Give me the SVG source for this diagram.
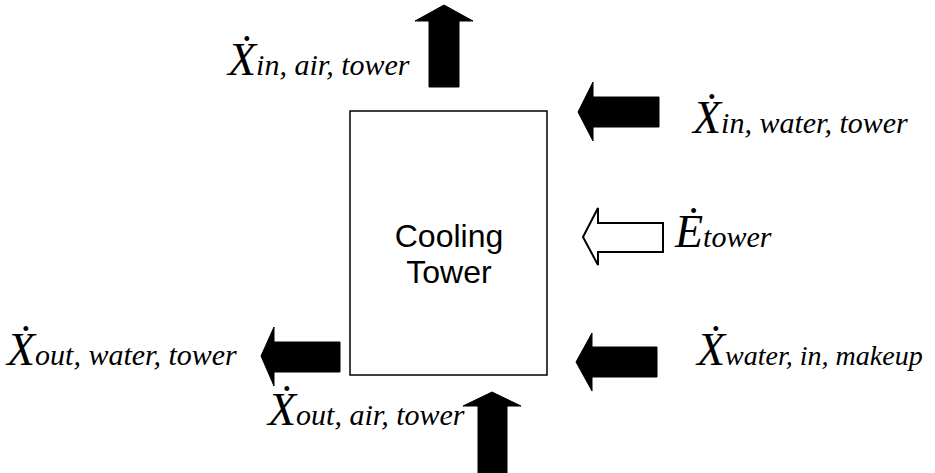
<svg xmlns="http://www.w3.org/2000/svg" width="935" height="473" viewBox="0 0 935 473">
<style>
.lbl{font-family:"Liberation Serif","Times New Roman",serif;font-style:italic;fill:#000}
.big{font-size:46px}
.sub{font-size:30px}
.solid{fill:#000;stroke:#000;stroke-width:1}
.hollow{fill:#fff;stroke:#000;stroke-width:2}
.box{fill:#fff;stroke:#000;stroke-width:1.5}
.name{font-family:"Liberation Sans",Arial,sans-serif;font-size:32px;fill:#000;text-anchor:middle}
</style>
<rect width="935" height="473" fill="#fff"/>
<g id="tower">
<rect class="box" x="350" y="111" width="197" height="264"/>
<text class="name" x="449" y="247">Cooling</text>
<text class="name" x="449" y="283">Tower</text>
</g>
<g id="connectors">
<polygon id="arrow-in-air" class="solid" points="429,87 429,21 415,21 444,5 473,21 459,21 459,87"/>
<polygon id="arrow-in-water" class="solid" points="659,97 593,97 593,82 578,112 593,141 593,127 659,127"/>
<polygon id="arrow-energy" class="hollow" points="663,223 598,223 598,208 583,237 598,265 598,252 663,252"/>
<polygon id="arrow-makeup" class="solid" points="657,347 592,347 592,333 576,362 592,391 592,377 657,377"/>
<polygon id="arrow-out-water" class="solid" points="340,342 274,342 274,327 261,356 274,386 274,372 340,372"/>
<polygon id="arrow-out-air" class="solid" points="478,473 478,406 463,406 492,392 521,406 507,406 507,473"/>
</g>
<g id="label-in-air"><text class="lbl" x="228" y="75"><tspan class="big">Ẋ</tspan><tspan class="sub">in, air, tower</tspan></text></g>
<g id="label-in-water"><text class="lbl" x="693" y="133"><tspan class="big">Ẋ</tspan><tspan class="sub">in, water, tower</tspan></text></g>
<g id="label-energy"><text class="lbl" x="675" y="247"><tspan class="big">Ė</tspan><tspan class="sub">tower</tspan></text></g>
<g id="label-out-water"><text class="lbl" x="7" y="365"><tspan class="big">Ẋ</tspan><tspan class="sub">out, water, tower</tspan></text></g>
<g id="label-out-air"><text class="lbl" x="268" y="425"><tspan class="big">Ẋ</tspan><tspan class="sub">out, air, tower</tspan></text></g>
<g id="label-makeup"><text class="lbl" x="697" y="365"><tspan class="big">Ẋ</tspan><tspan class="sub" style="font-size:28px">water, in, makeup</tspan></text></g>
</svg>
